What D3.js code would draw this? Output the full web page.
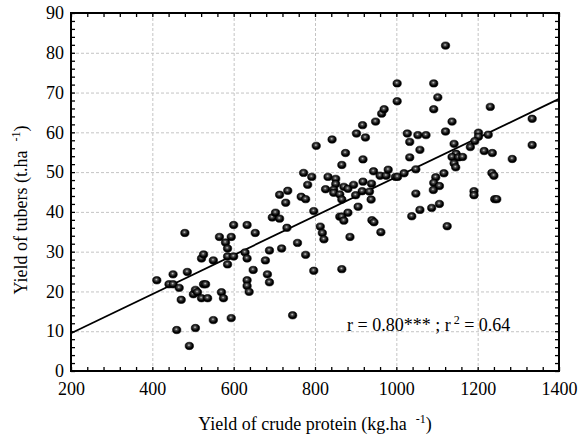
<!DOCTYPE html>
<html>
<head>
  <title>Tubers vs crude protein</title>
  <script src="https://d3js.org/d3.v7.min.js"></script>
  <style>
    body { margin: 0; background: #fff; }
    svg text { font-family: 'Liberation Serif', 'Times New Roman', serif; }
  </style>
</head>
<body>
  <div id="chart"></div>
  <script>
    // yield of crude protein (kg/ha) and yield of tubers (t/ha)
    const protein = [411,441,451,451,460,466,471,480,486,491,
      501,506,511,506,521,521,526,526,531,536,
      550,550,565,570,575,580,585,585,585,594,
      600,594,600,633,628,633,633,633,638,648,
      653,678,683,688,688,695,703,713,718,713,
      733,728,731,745,757,777,797,772,792,782,
      766,777,797,803,842,875,866,902,917,924,
      918,832,851,851,826,846,846,871,881,895,
      918,916,861,866,900,906,861,866,871,881,
      813,818,822,886,866,939,934,938,940,945,
      962,949,964,970,1002,1002,1092,1102,1092,1121,
      1137,1121,1027,1053,1073,1033,1058,1033,1142,1147,
      1137,1153,1142,1146,944,960,975,980,998,1003,
      1019,1048,1117,1097,1092,1106,1091,1048,1106,1087,
      1058,1038,1125,1191,1191,1235,1240,1242,1247,1231,
      1334,1334,1202,1226,1202,1193,1182,1163,1216,1236,
      1285];
    const tubers = [22.8,21.8,21.8,24.3,10.3,20.9,17.9,34.7,24.9,6.3,
      19.3,20.4,19.8,10.8,18.3,28.3,29.3,21.8,21.8,18.3,
      12.8,27.8,33.7,19.8,18.3,32.3,30.8,28.8,26.8,33.7,
      36.7,13.3,28.8,36.7,29.8,28.3,22.8,21.4,19.9,25.4,
      34.7,27.8,24.3,22.3,30.3,38.6,39.8,38.3,30.8,44.3,
      45.3,42.3,36.0,14.0,32.2,29.2,25.2,49.8,48.8,46.8,
      43.8,43.2,40.2,56.6,58.2,54.8,51.8,59.7,61.8,58.7,
      53.2,48.8,48.3,47.0,45.7,45.6,44.8,46.3,45.8,46.8,
      47.6,45.2,44.4,43.1,44.2,41.3,38.8,38.8,37.8,39.8,
      36.3,34.7,33.1,33.7,25.6,47.1,45.1,43.1,37.9,37.4,
      34.9,62.7,64.7,65.8,72.3,67.8,72.3,68.8,65.8,81.8,
      62.7,60.2,59.7,59.3,59.3,57.6,55.6,53.7,57.1,54.6,
      53.8,53.7,52.2,51.2,50.2,49.1,49.1,50.6,48.8,48.8,
      49.7,50.7,49.7,48.7,47.3,46.5,45.5,44.6,42.0,41.0,
      40.5,38.9,36.4,45.2,44.2,49.8,49.1,43.2,43.2,66.4,
      63.4,56.8,59.9,59.4,58.9,57.8,56.3,53.8,55.3,54.8,
      53.3];
    // fitted line end points
    const fitX = [200, 1400];
    const fitY = [9.5, 68.4];
    const xTicks = [200, 400, 600, 800, 1000, 1200, 1400];
    const yTicks = [0, 10, 20, 30, 40, 50, 60, 70, 80, 90];

    const W = 579, H = 434;
    const margin = { top: 13, right: 20, bottom: 63, left: 71 };
    const width = W - margin.left - margin.right;
    const height = H - margin.top - margin.bottom;
    const serif = "'Liberation Serif', 'Times New Roman', serif";

    const svg = d3.select("#chart").append("svg")
      .attr("width", W)
      .attr("height", H)
      .attr("font-family", serif);

    const defs = svg.append("defs");
    const grad = defs.append("radialGradient")
      .attr("id", "ball")
      .attr("cx", "45%").attr("cy", "40%").attr("r", "60%");
    grad.append("stop").attr("offset", "0%").attr("stop-color", "#d0d0d0");
    grad.append("stop").attr("offset", "28%").attr("stop-color", "#4a4a4a");
    grad.append("stop").attr("offset", "70%").attr("stop-color", "#000");

    const g = svg.append("g")
      .attr("transform", "translate(" + margin.left + "," + margin.top + ")");

    const x = d3.scaleLinear().domain([200, 1400]).range([0, width]);
    const y = d3.scaleLinear().domain([0, 90]).range([height, 0]);

    // dashed grid
    g.append("g")
      .attr("class", "grid")
      .attr("transform", "translate(0," + height + ")")
      .call(d3.axisBottom(x).tickValues(xTicks.slice(1, -1)).tickSize(-height).tickFormat(""));
    g.append("g")
      .attr("class", "grid")
      .call(d3.axisLeft(y).tickValues(yTicks.slice(1, -1)).tickSize(-width).tickFormat(""));
    g.selectAll(".grid .domain").remove();
    g.selectAll(".grid line")
      .attr("stroke", "#c4c4c4")
      .attr("stroke-dasharray", "3,2");

    // minor ticks on all four sides, pointing in
    const xMinor = d3.range(200, 1401, 40);
    const yMinor = d3.range(0, 91, 2);
    const tickAxes = [
      [d3.axisBottom(x).tickValues(xMinor), "translate(0," + height + ")"],
      [d3.axisTop(x).tickValues(xMinor), "translate(0,0)"],
      [d3.axisLeft(y).tickValues(yMinor), "translate(0,0)"],
      [d3.axisRight(y).tickValues(yMinor), "translate(" + width + ",0)"]
    ];
    tickAxes.forEach(function(a) {
      const ax = g.append("g")
        .attr("transform", a[1])
        .call(a[0].tickSize(-4).tickFormat(""));
      ax.select(".domain").remove();
      ax.selectAll("line").attr("stroke", "#000").attr("stroke-width", 1.3);
    });

    // tick labels
    const xAxis = g.append("g")
      .attr("transform", "translate(0," + height + ")")
      .call(d3.axisBottom(x).tickValues(xTicks).tickSize(0).tickPadding(11).tickFormat(d3.format("d")));
    const yAxis = g.append("g")
      .call(d3.axisLeft(y).tickValues(yTicks).tickSize(0).tickPadding(7).tickFormat(d3.format("d")));
    [xAxis, yAxis].forEach(function(ax) {
      ax.attr("font-family", serif).attr("font-size", 18);
      ax.select(".domain").remove();
      ax.selectAll("text")
        .attr("fill", "#000")
        .style("font-family", serif);
    });

    // regression line
    const line = d3.line().x(d => x(d[0])).y(d => y(d[1]));
    g.append("path")
      .datum(fitX.map((v, i) => [v, fitY[i]]))
      .attr("d", line)
      .attr("fill", "none")
      .attr("stroke", "#000")
      .attr("stroke-width", 1.8);

    // points
    g.selectAll(".pt")
      .data(protein.map((v, i) => [v, tubers[i]]))
      .enter()
      .append("ellipse")
      .attr("class", "pt")
      .attr("cx", d => x(d[0]))
      .attr("cy", d => y(d[1]))
      .attr("rx", 4.2)
      .attr("ry", 3.7)
      .attr("fill", "url(#ball)")
      .attr("stroke", "#000")
      .attr("stroke-width", 0.6);

    // frame
    g.append("rect")
      .attr("width", width)
      .attr("height", height)
      .attr("fill", "none")
      .attr("stroke", "#000")
      .attr("stroke-width", 2);

    // annotation
    const ann = g.append("text")
      .attr("x", 276)
      .attr("y", 318)
      .attr("font-size", 18);
    ann.append("tspan").text("r = 0.80*** ; r");
    ann.append("tspan").attr("dx", 3).attr("dy", -7).attr("font-size", 12).text("2");
    ann.append("tspan").attr("dy", 7).text(" = 0.64");

    // axis titles
    const xt = svg.append("text")
      .attr("x", margin.left + width / 2)
      .attr("y", 430)
      .attr("text-anchor", "middle")
      .attr("font-size", 18);
    xt.append("tspan").text("Yield of crude protein (kg.ha");
    xt.append("tspan").attr("dx", 9).attr("dy", -7).attr("font-size", 12).text("-1");
    xt.append("tspan").attr("dy", 7).text(")");

    const yt = svg.append("text")
      .attr("transform", "translate(27,210) rotate(-90)")
      .attr("text-anchor", "middle")
      .attr("font-size", 18);
    yt.append("tspan").text("Yield of tubers (t.ha");
    yt.append("tspan").attr("dx", 9).attr("dy", -7).attr("font-size", 12).text("-1");
    yt.append("tspan").attr("dy", 7).text(")");
  </script>
</body>
</html>
